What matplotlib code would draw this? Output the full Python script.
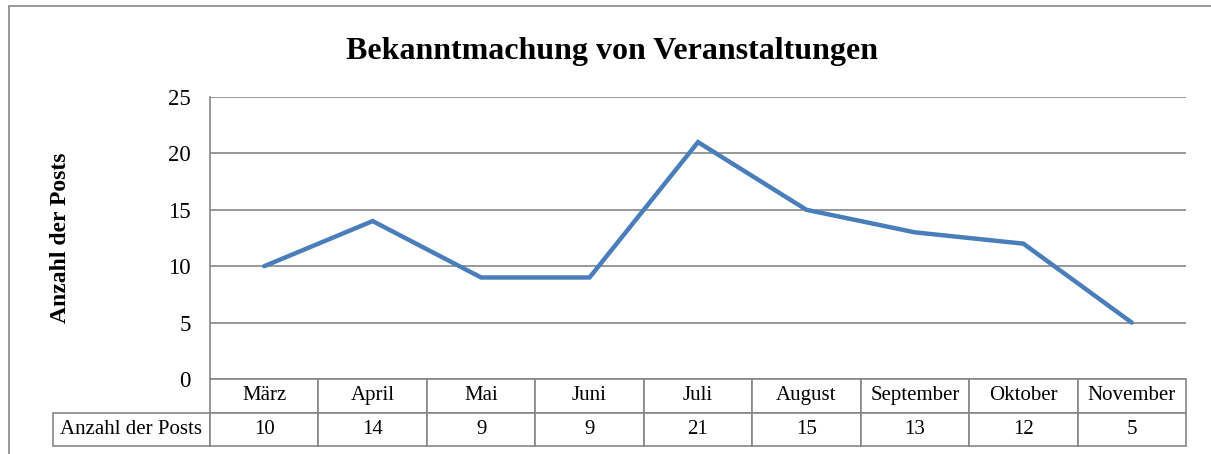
import matplotlib.pyplot as plt
from matplotlib.patches import Rectangle
import numpy as np

months = ["März", "April", "Mai", "Juni", "Juli", "August", "September", "Oktober", "November"]
posts = [10, 14, 9, 9, 21, 15, 13, 12, 5]
row_label = "Anzahl der Posts"

plt.rcParams['font.family'] = ['Liberation Serif', 'DejaVu Serif']

W, H = 1211, 454
fig = plt.figure(figsize=(W / 100, H / 100), dpi=100)

# plot area in pixels
x0, x1, ytop, ybot = 210, 1186, 97, 379
ax = fig.add_axes([x0 / W, 1 - ybot / H, (x1 - x0) / W, (ybot - ytop) / H])

x = np.arange(len(months)) + 0.5
ax.plot(x, posts, color='#4A7EBB', lw=3.2, solid_capstyle='round', solid_joinstyle='miter')
ax.set_xlim(0, len(months))
ax.set_ylim(0, 25)
ax.set_yticks(range(0, 26, 5))
ax.set_xticks([])
ax.grid(axis='y', color='#868686', lw=1.2)
ax.set_axisbelow(True)
for s in ['top', 'right', 'bottom']:
    ax.spines[s].set_visible(False)
ax.spines['left'].set_color('#868686')
ax.spines['left'].set_linewidth(1.2)
ax.tick_params(axis='y', length=0, labelsize=16.5, pad=14)

fig.text(60 / W, 1 - 238 / H, "Anzahl der Posts", fontsize=17, fontweight='bold',
         rotation=90, ha='center', va='center')
fig.text(612 / W, 1 - 51 / H, "Bekanntmachung von Veranstaltungen", fontsize=23,
         fontweight='bold', ha='center', va='center')

# data table under the plot
lab_w = 157
col_w = (x1 - x0) / len(months)
tbl_h = 67
cell_text = [[''] + months, [row_label] + [str(v) for v in posts]]
widths = [lab_w] + [col_w] * len(months)
tbl = ax.table(cellText=cell_text, colWidths=[w / sum(widths) for w in widths],
               cellLoc='center',
               bbox=[-lab_w / (x1 - x0), -tbl_h / (ybot - ytop), sum(widths) / (x1 - x0), tbl_h / (ybot - ytop)])
tbl.auto_set_font_size(False)
tbl.set_fontsize(15)
for (r, c), cell in tbl.get_celld().items():
    cell.set_edgecolor('#868686')
    cell.set_linewidth(1.2)
    if r == 0 and c == 0:
        cell.set_visible(False)

# outer chart border
fig.patches.append(Rectangle((9 / W, -0.1), 1.2, 1 - 6 / H + 0.1, transform=fig.transFigure,
                             fill=False, edgecolor='#868686', lw=1.2))

fig.savefig('out.png', dpi=100)
